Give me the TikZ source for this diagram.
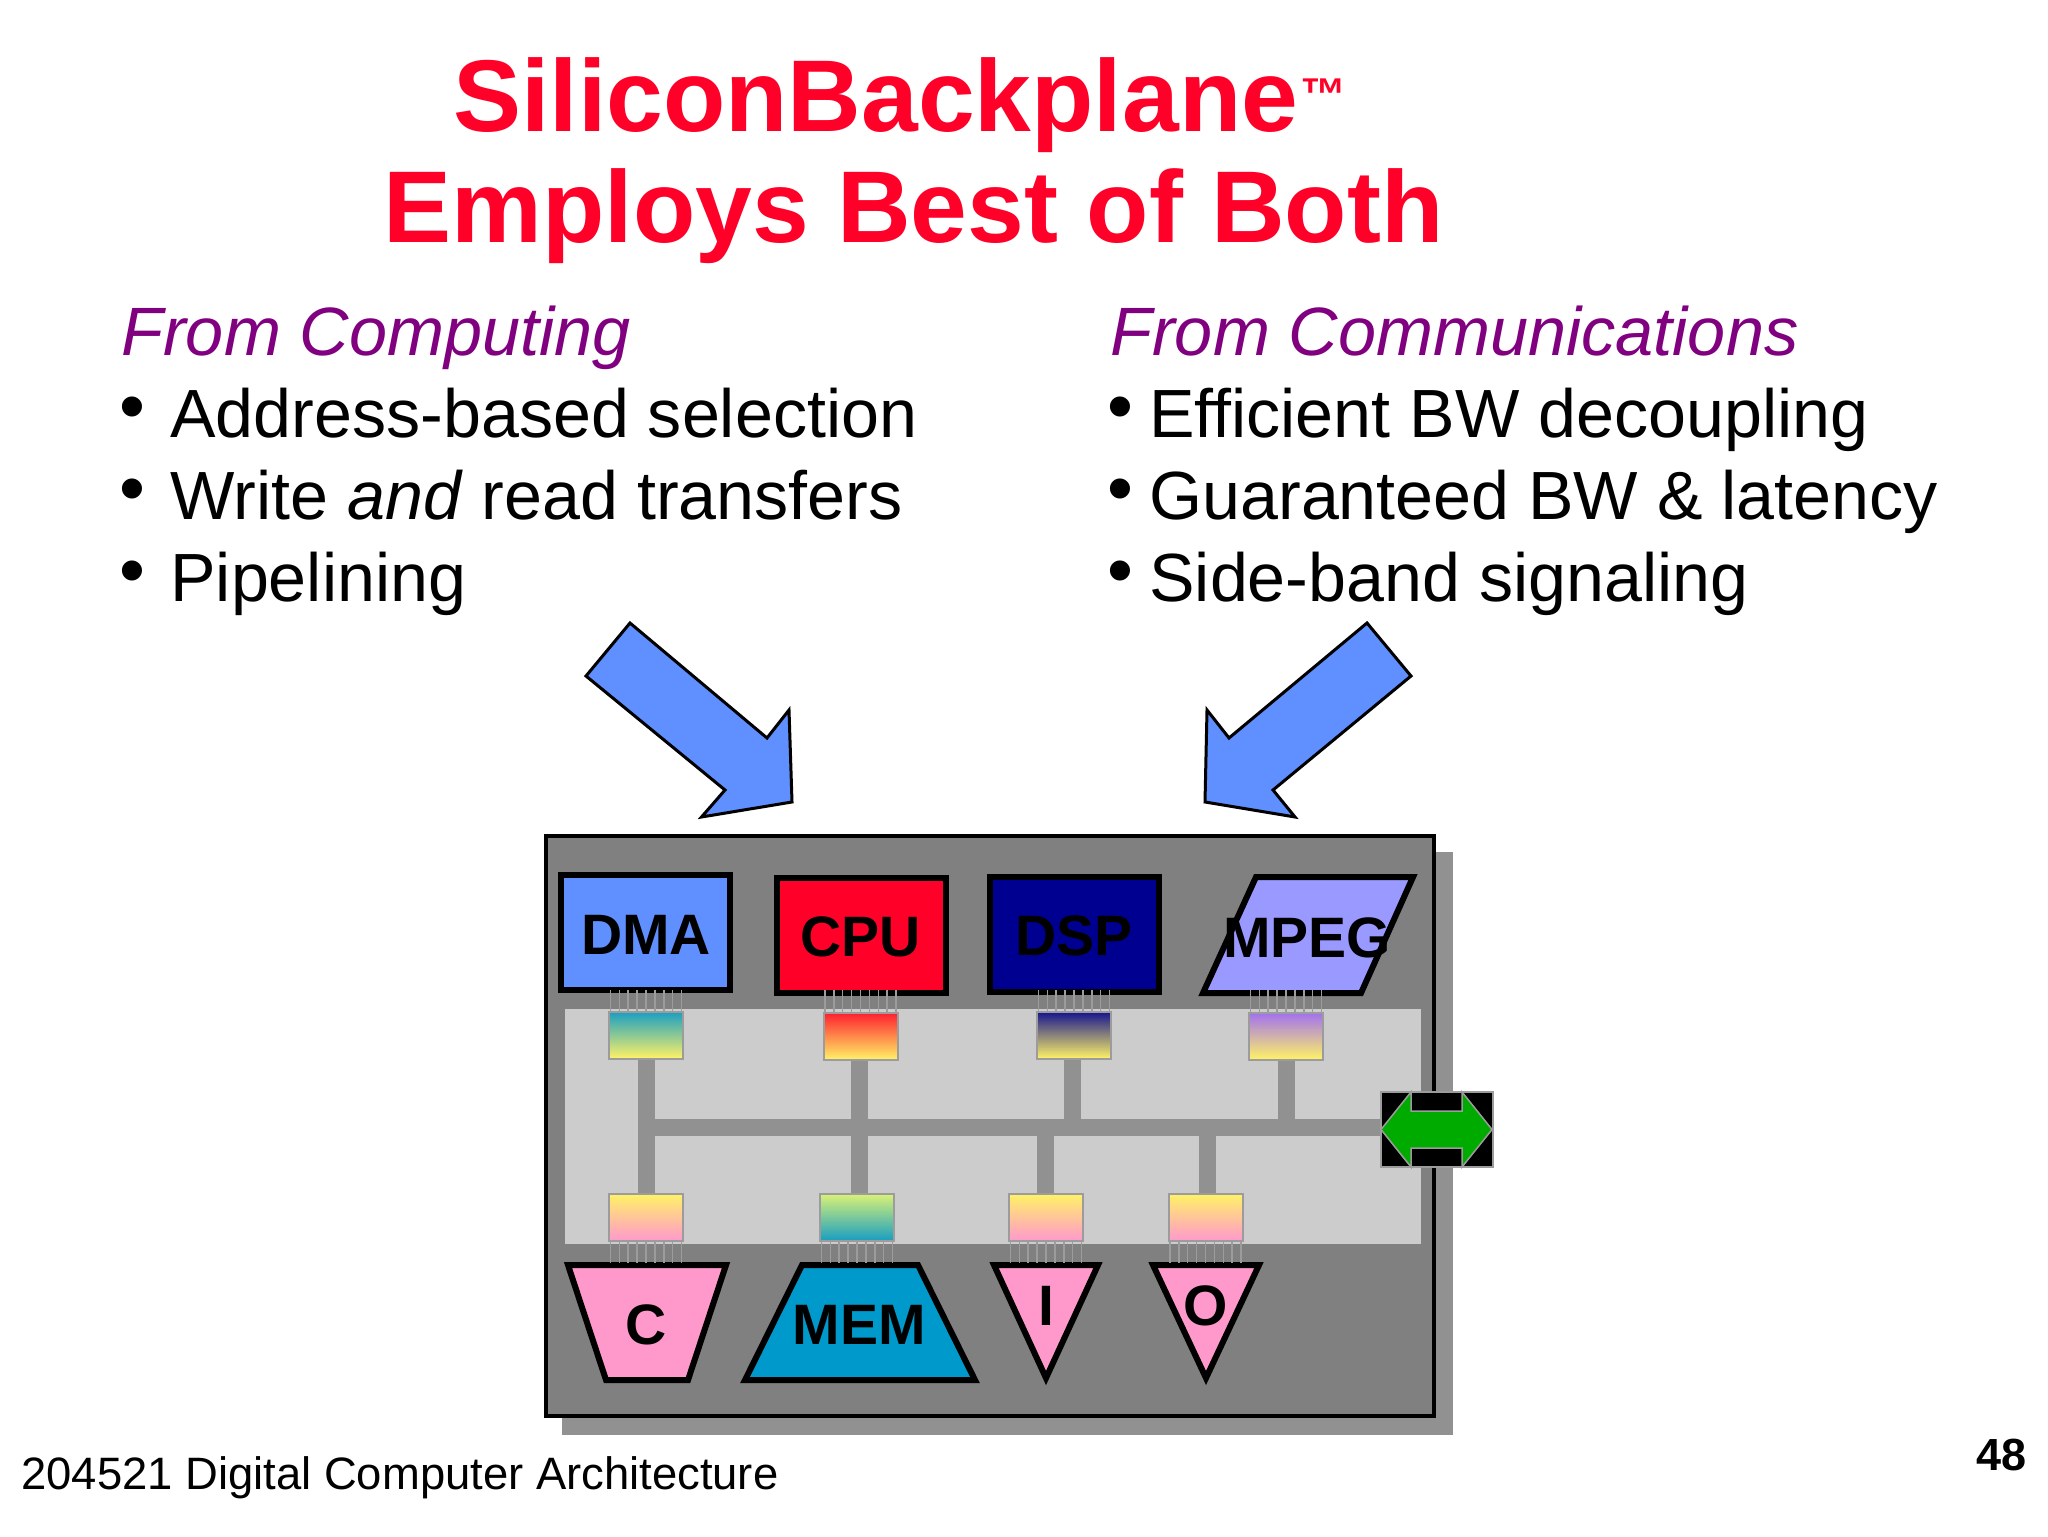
\documentclass[tikz,border=0pt]{standalone}
\usepackage{fontspec}
\setmainfont{Liberation Sans}
\newlength{\du}
\setlength{\du}{0.5pt}
\definecolor{slidered}{rgb}{1.000000, 0.000000, 0.160000}
\definecolor{headpurple}{rgb}{0.500000, 0.000000, 0.500000}
\definecolor{arrowblue}{rgb}{0.376000, 0.565000, 1.000000}
\definecolor{dspblue}{rgb}{0.000000, 0.000000, 0.565000}
\definecolor{mpegblue}{rgb}{0.600000, 0.600000, 1.000000}
\definecolor{mempink}{rgb}{1.000000, 0.600000, 0.800000}
\definecolor{memblue}{rgb}{0.000000, 0.600000, 0.800000}
\definecolor{portyellow}{rgb}{1.000000, 0.950000, 0.400000}
\definecolor{porttopdma}{rgb}{0.100000, 0.620000, 0.760000}
\definecolor{porttopcpu}{rgb}{1.000000, 0.120000, 0.180000}
\definecolor{porttopdsp}{rgb}{0.080000, 0.080000, 0.560000}
\definecolor{porttopmpeg}{rgb}{0.630000, 0.440000, 0.940000}
\definecolor{porttopmem}{rgb}{0.860000, 0.950000, 0.460000}
\definecolor{boxgrey}{rgb}{0.502000, 0.502000, 0.502000}
\definecolor{shadowgrey}{rgb}{0.570000, 0.570000, 0.570000}
\definecolor{panelgrey}{rgb}{0.800000, 0.800000, 0.800000}
\definecolor{wiregrey}{rgb}{0.610000, 0.610000, 0.610000}
\definecolor{linkgreen}{rgb}{0.000000, 0.670000, 0.000000}
\tikzset{
  titletext/.style={anchor=base west,inner sep=0pt,text=slidered,font=\fontsize{51}{60}\selectfont\bfseries},
  headtext/.style={anchor=base west,inner sep=0pt,text=headpurple,font=\fontsize{34.2}{40}\selectfont\itshape},
  itemtext/.style={anchor=base west,inner sep=0pt,font=\fontsize{34.1}{40}\selectfont},
  dottext/.style={anchor=base west,inner sep=0pt,font=\fontsize{37}{40}\selectfont},
  modbox/.style={draw=black,line width=6\du,inner sep=0pt,minimum width=169\du,minimum height=115\du},
  modpoly/.style={draw=black,line width=6\du,miter limit=10},
  modlabel/.style={inner sep=0pt,font=\fontsize{28.5}{32}\selectfont\bfseries},
  port/.style={draw=wiregrey,line width=2\du,inner sep=0pt,minimum width=74\du,minimum height=47\du},
  pinwire/.style={draw=wiregrey,line width=1.5\du},
  bus/.style={draw=shadowgrey,line width=17\du},
  bigarrow/.style={draw=black,line width=3\du,fill=arrowblue}
}
\newcommand{\pinrow}[3]{\foreach \k in {-4,...,4}{\draw[pinwire] ([xshift=\k*8.9\du]#1.#2) -- ([xshift=\k*8.9\du]#1.#2 |- #3);}}

\begin{document}
\begin{tikzpicture}[yscale=-1]
\useasboundingbox[fill=white] (0\du,0\du) rectangle (2048\du,1536\du);
% title and the two lists
\node[titletext] (title1) at (453\du,132\du){SiliconBackplane};
\node[anchor=base west,inner sep=0pt,text=slidered,font=\fontsize{23}{26}\selectfont\bfseries] (tm) at (1300\du,111\du){™};
\node[titletext] (title2) at (383.5\du,242\du){Employs Best of Both};
\node[headtext] (headleft) at (121\du,355\du){From Computing};
\node[dottext] (dotl1) at (119\du,431\du){•};
\node[itemtext] (iteml1) at (170\du,437\du){Address-based selection};
\node[dottext] (dotl2) at (119\du,513\du){•};
\node[itemtext] (iteml2) at (170\du,519\du){Write \textit{and} read transfers};
\node[dottext] (dotl3) at (119\du,595\du){•};
\node[itemtext] (iteml3) at (170\du,601\du){Pipelining};
\node[headtext] (headright) at (1110\du,355\du){From Communications};
\node[dottext] (dotr1) at (1107\du,431\du){•};
\node[itemtext] (itemr1) at (1149\du,437\du){Efficient BW decoupling};
\node[dottext] (dotr2) at (1107\du,513\du){•};
\node[itemtext] (itemr2) at (1149\du,519\du){Guaranteed BW \& latency};
\node[dottext] (dotr3) at (1107\du,595\du){•};
\node[itemtext] (itemr3) at (1149\du,601\du){Side-band signaling};
% big arrows
\draw[bigarrow] (630\du,623\du)--(586\du,676\du)--(725\du,790\du)--(701.5\du,817\du)--(792\du,802\du)--(789\du,710\du)--(767\du,738\du)--cycle;
\draw[bigarrow] (1367\du,623\du)--(1411\du,676\du)--(1273\du,790\du)--(1295\du,817\du)--(1205\du,802\du)--(1207\du,710\du)--(1229\du,738\du)--cycle;
% chip
\fill[shadowgrey] (562\du,852\du) rectangle (1453\du,1435\du);
\draw[line width=4\du,draw=black,fill=boxgrey] (546\du,836\du) rectangle (1434\du,1416\du);
\fill[panelgrey] (565\du,1009\du) rectangle (1421\du,1244\du);
% initiators
\node[modbox,fill=arrowblue] (dma) at (645.5\du,932.5\du){};
\node[modlabel] (dmatext) at (646\du,935\du){DMA};
\node[modbox,fill=slidered] (cpu) at (861\du,935\du){};
\node[modlabel] (cputext) at (860.5\du,937\du){CPU};
\node[modbox,fill=dspblue] (dsp) at (1074.5\du,934\du){};
\node[modlabel] (dsptext) at (1074\du,936\du){DSP};
\draw[modpoly,fill=mpegblue] (1256\du,877\du)--(1413\du,877\du)--(1361\du,993\du)--(1203\du,993\du)--cycle;
\node[modlabel] (mpegtext) at (1307\du,938\du){MPEG};
% targets
\draw[modpoly,fill=mempink] (568\du,1265\du)--(726\du,1265\du)--(688\du,1380\du)--(606\du,1380\du)--cycle;
\node[modlabel] (ctext) at (646\du,1325\du){C};
\draw[modpoly,fill=memblue] (802\du,1265\du)--(918\du,1265\du)--(975\du,1380\du)--(745\du,1380\du)--cycle;
\node[modlabel] (memtext) at (859\du,1325\du){MEM};
\draw[modpoly,fill=mempink] (994\du,1265\du)--(1098\du,1265\du)--(1046\du,1378\du)--cycle;
\node[modlabel] (itext) at (1046\du,1306\du){I};
\draw[modpoly,fill=mempink] (1153\du,1265\du)--(1259\du,1265\du)--(1206\du,1378\du)--cycle;
\node[modlabel] (otext) at (1206\du,1306\du){O};
% agents
\node[port,top color=porttopdma,bottom color=portyellow] (dmaport) at (646\du,1035\du){};
\node[port,top color=porttopcpu,bottom color=portyellow] (cpuport) at (860.5\du,1036\du){};
\node[port,top color=porttopdsp,bottom color=portyellow] (dspport) at (1074\du,1035\du){};
\node[port,top color=porttopmpeg,bottom color=portyellow] (mpegport) at (1286\du,1036\du){};
\node[port,top color=portyellow,bottom color=mempink] (cport) at (646\du,1217\du){};
\node[port,top color=porttopmem,bottom color=porttopdma] (memport) at (857\du,1217\du){};
\node[port,top color=portyellow,bottom color=mempink] (iport) at (1046\du,1217\du){};
\node[port,top color=portyellow,bottom color=mempink] (oport) at (1205.5\du,1217\du){};
% pins
\coordinate (toppin) at (646\du,990\du);
\coordinate (botpin) at (646\du,1263\du);
\pinrow{dmaport}{north}{toppin}
\pinrow{cpuport}{north}{toppin}
\pinrow{dspport}{north}{toppin}
\pinrow{mpegport}{north}{toppin}
\pinrow{cport}{south}{botpin}
\pinrow{memport}{south}{botpin}
\pinrow{iport}{south}{botpin}
\pinrow{oport}{south}{botpin}
% bus and off-chip link
\node[draw=wiregrey,line width=2\du,fill=black,inner sep=0pt,minimum width=112\du,minimum height=75\du] (xlink) at (1437\du,1129.5\du){};
\coordinate (buslevel) at (646\du,1127\du);
\draw[bus] (dmaport.south) -- (cport.north);
\draw[bus] ([xshift=-1.5\du]cpuport.south) -- ([xshift=2\du]memport.north);
\draw[bus] ([xshift=-2\du]dspport.south) -- ([xshift=-2\du]dspport.south |- buslevel);
\draw[bus] (mpegport.south) -- (mpegport.south |- buslevel);
\draw[bus] ([xshift=-1\du]iport.north) -- ([xshift=-1\du]iport.north |- buslevel);
\draw[bus] ([xshift=1.5\du]oport.north) -- ([xshift=1.5\du]oport.north |- buslevel);
\draw[bus] (buslevel) -- (xlink.west |- buslevel);
\draw[draw=wiregrey,line width=1.5\du,fill=linkgreen] (1381\du,1129.5\du)--(1411\du,1092\du)--(1411\du,1111\du)--(1462\du,1111\du)--(1462\du,1092\du)--(1492\du,1129.5\du)--(1462\du,1167\du)--(1462\du,1148\du)--(1411\du,1148\du)--(1411\du,1167\du)--cycle;
% footer
\node[anchor=base west,inner sep=0pt,font=\fontsize{22.7}{27}\selectfont] (footer) at (21\du,1489\du){204521 Digital Computer Architecture};
\node[anchor=base east,inner sep=0pt,font=\fontsize{22.5}{26}\selectfont\bfseries] (pagenum) at (2027\du,1470\du){48};
\end{tikzpicture}
\end{document}
